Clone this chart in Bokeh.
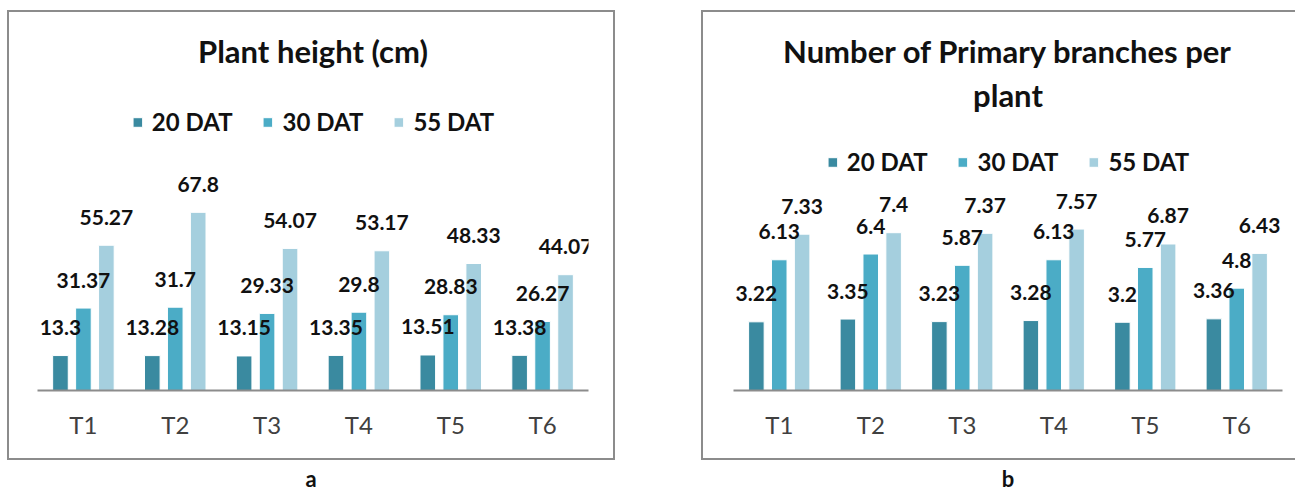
from bokeh.plotting import figure
from bokeh.models import ColumnDataSource, Range1d, Legend, LegendItem, Label, Div
from bokeh.transform import dodge
from bokeh.layouts import row, column
from bokeh.core.properties import value
from bokeh.embed import file_html
from bokeh.resources import INLINE

treatments = ["T1", "T2", "T3", "T4", "T5", "T6"]
series = ["20 DAT", "30 DAT", "55 DAT"]
height_20 = [13.3, 13.28, 13.15, 13.35, 13.51, 13.38]
height_30 = [31.37, 31.7, 29.33, 29.8, 28.83, 26.27]
height_55 = [55.27, 67.8, 54.07, 53.17, 48.33, 44.07]
branch_20 = [3.22, 3.35, 3.23, 3.28, 3.2, 3.36]
branch_30 = [6.13, 6.4, 5.87, 6.13, 5.77, 4.8]
branch_55 = [7.33, 7.4, 7.37, 7.57, 6.87, 6.43]
colors = ["#3A8AA0", "#4BACC6", "#A5CFDE"]
title_a = ["Plant height (cm)"]
title_b = ["Number of Primary branches per", "plant"]

FONT = "Lato"
FIG_H = 450
BORDER = 2
BOTTOM = 72
FRAME_H = FIG_H - 2 * BORDER - BOTTOM  # frame spans from the top of the box to the baseline


def make_panel(title_lines, title_px, values, px_per_unit, width, bl, br, border_css, legend_margin):
    ymax = FRAME_H / px_per_unit
    p = figure(x_range=treatments, y_range=Range1d(0, ymax), width=width, height=FIG_H,
               output_backend="svg", toolbar_location=None, title=None,
               min_border_left=bl, min_border_right=br, min_border_top=0, min_border_bottom=BOTTOM)
    p.styles = border_css
    p.outline_line_color = None
    p.background_fill_color = "white"
    p.border_fill_color = "white"
    p.xgrid.visible = False
    p.ygrid.visible = False
    p.yaxis.visible = False
    xa = p.xaxis[0]
    xa.axis_line_color = "#8C8C8C"
    xa.axis_line_width = 2
    xa.major_tick_line_color = None
    xa.minor_tick_line_color = None
    xa.major_label_text_font = FONT
    xa.major_label_text_font_size = "24px"
    xa.major_label_text_color = "#404040"
    xa.major_label_standoff = 13
    p.x_range.range_padding = 0

    offsets = [-0.25, 0.0, 0.25]
    items = []
    sources = []
    for name, vals, off, col in zip(series, values, offsets, colors):
        src = ColumnDataSource(dict(cat=treatments, val=vals, lab=[str(v) for v in vals]))
        sources.append((src, off))
        r = p.vbar(x=dodge("cat", off, range=p.x_range), top="val", width=0.17, source=src,
                   fill_color=col, line_color="white", line_width=1)
        items.append(LegendItem(label=name, renderers=[r]))
    for src, off in sources:
        p.text(x=dodge("cat", off, range=p.x_range), y="val", text="lab", source=src,
               text_font=value(FONT), text_font_style="bold", text_font_size="21px",
               text_color="#111111", text_align="center", text_baseline="alphabetic",
               y_offset=-28)

    leg = Legend(items=items, orientation="horizontal", location="top_center",
                 background_fill_alpha=0, border_line_alpha=0, padding=0, margin=legend_margin,
                 spacing=29, glyph_width=12, glyph_height=12, label_standoff=9,
                 label_text_font=FONT, label_text_font_style="bold",
                 label_text_font_size="24px", label_text_color="#111111")
    p.add_layout(leg, "center")

    # chart title(s), centred over the frame; px = distance from top of the frame
    for line, px in zip(title_lines, title_px):
        y = ymax * (1 - px / FRAME_H)
        p.add_layout(Label(x=len(treatments) / 2, y=y, text=line, text_align="center",
                           text_baseline="middle", text_font=FONT, text_font_style="bold",
                           text_font_size="31px", text_color="#111111"))
    return p


pa = make_panel(title_a, [38], [height_20, height_30, height_55], 2.6,
                608, 28, 29,
                {"border": "2px solid #8C8C8C", "box-sizing": "border-box"}, 95)
pb = make_panel(title_b, [38, 82], [branch_20, branch_30, branch_55], 21.1,
                594, 30, 15,
                {"border-top": "2px solid #8C8C8C", "border-left": "2px solid #8C8C8C",
                 "border-bottom": "2px solid #8C8C8C", "box-sizing": "border-box"}, 135)

div_style = {"text-align": "center", "font-family": FONT, "font-weight": "bold",
             "font-size": "22px", "line-height": "22px", "color": "#111111"}
da = Div(text="a", width=598, height=28, styles=div_style)
db = Div(text="b", width=560, height=28, styles=dict(div_style, **{"padding-left": "24px"}))

layout = column(row(pa, pb, spacing=86), row(da, db, spacing=96), spacing=3,
                margin=(10, 0, 0, 7))
open("out.html", "w").write(file_html(layout, INLINE))
